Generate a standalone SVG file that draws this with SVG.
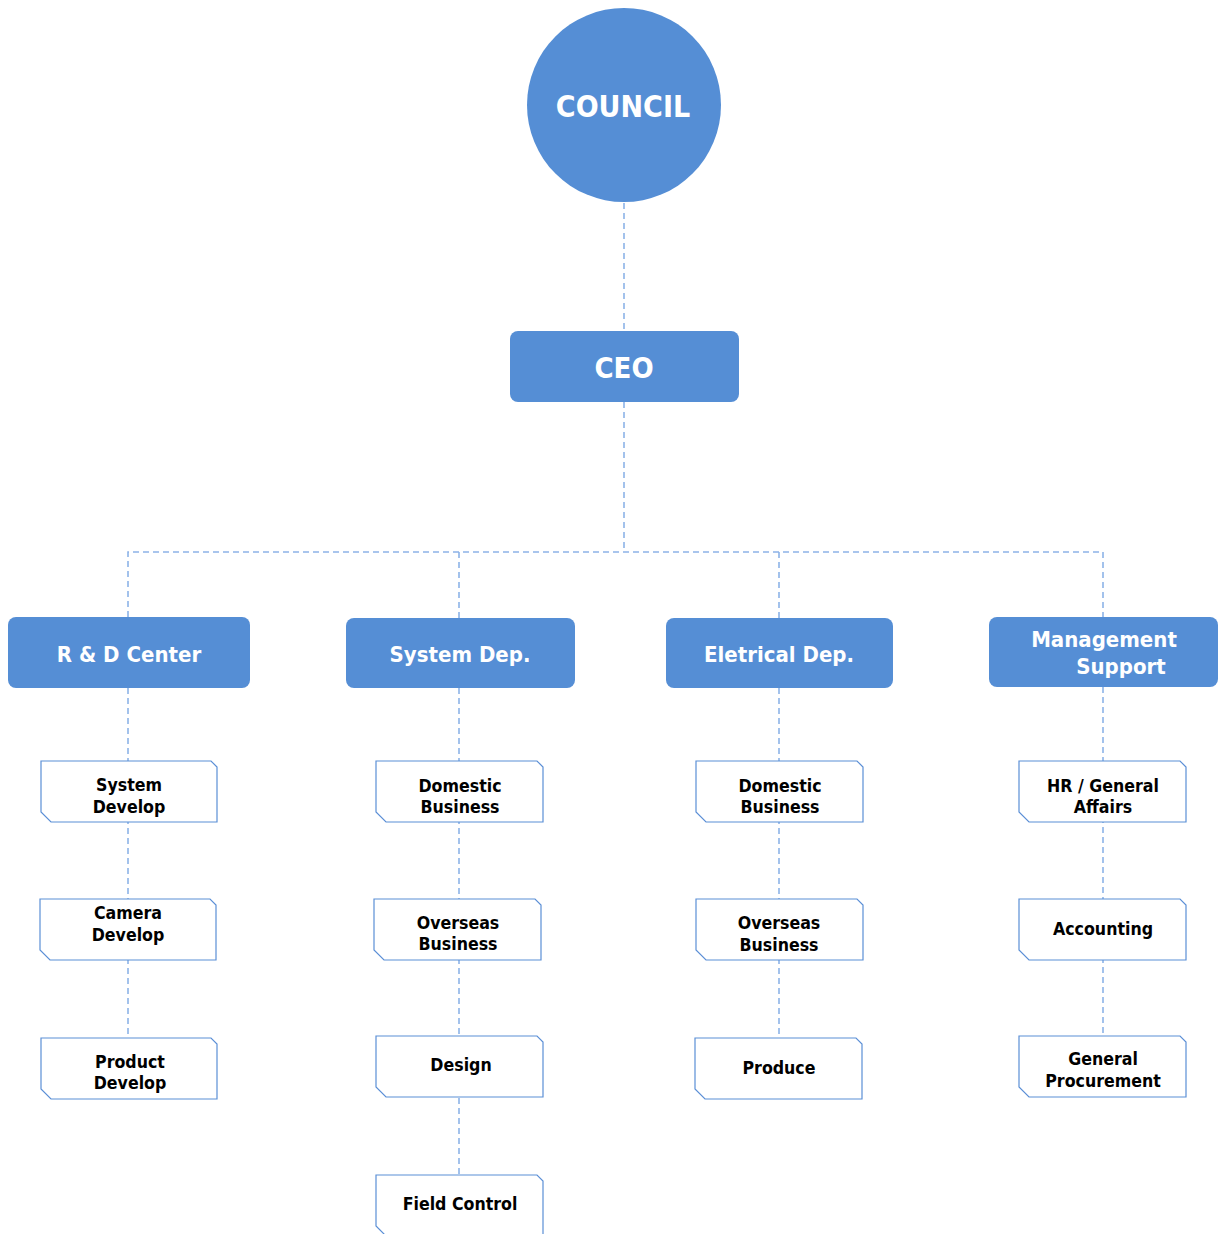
<svg xmlns="http://www.w3.org/2000/svg" width="1222" height="1234" viewBox="0 0 1222 1234">
<style>
.fill{fill:#558ed5}
.wt{fill:#fff;font-family:"DejaVu Sans Condensed","DejaVu Sans",sans-serif;font-weight:bold;text-anchor:middle}
.bt{fill:#000;font-family:"DejaVu Sans Condensed","DejaVu Sans",sans-serif;font-weight:bold;text-anchor:middle;font-size:17.6px}
.box{fill:#fff;stroke:#5b8fd6;stroke-width:1.2}
.dash{fill:none;stroke:#8db3e8;stroke-width:1.6;stroke-dasharray:6 4}
</style>
<defs>
<path id="sb" d="M0,0 H170 L176,6 V61 H10 L0,51 Z"/>
<path id="sb2" d="M0,0 H161 L167,6 V61 H10 L0,51 Z"/>
</defs>
<rect width="1222" height="1234" fill="#fff"/>
<g id="connectors">
<path class="dash" d="M624,203 V331 M624,402 V552 M128,617 V552 H1103 V617 M459,552 V618 M779,552 V618"/>
<path class="dash" d="M128,688 V1038 M459,688 V1175 M779,688 V1038 M1103,687 V1036"/>
</g>
<g id="council"><circle class="fill" cx="624" cy="105" r="97"/><text class="wt" x="623" y="117" font-size="30">COUNCIL</text></g>
<g id="ceo"><rect class="fill" x="510" y="331" width="229" height="71" rx="8"/><text class="wt" x="624" y="378" font-size="29">CEO</text></g>
<g id="rd"><rect class="fill" x="8" y="617" width="242" height="71" rx="8"/><text class="wt" x="129" y="662" font-size="22">R &amp; D Center</text></g>
<g id="sysdep"><rect class="fill" x="346" y="618" width="229" height="70" rx="8"/><text class="wt" x="460" y="662" font-size="22">System Dep.</text></g>
<g id="eldep"><rect class="fill" x="666" y="618" width="227" height="70" rx="8"/><text class="wt" x="779" y="662" font-size="22">Eletrical Dep.</text></g>
<g id="mgmt"><rect class="fill" x="989" y="617" width="229" height="70" rx="8"/><text class="wt" font-size="22"><tspan x="1104" y="647">Management</tspan><tspan x="1121" y="674">Support</tspan></text></g>

<g id="sysdev"><use href="#sb" class="box" x="41" y="761"/><text class="bt"><tspan x="129" y="791">System</tspan><tspan x="129" y="813">Develop</tspan></text></g>
<g id="camdev"><use href="#sb" class="box" x="40" y="899"/><text class="bt"><tspan x="128" y="919">Camera</tspan><tspan x="128" y="941">Develop</tspan></text></g>
<g id="proddev"><use href="#sb" class="box" x="41" y="1038"/><text class="bt"><tspan x="130" y="1068">Product</tspan><tspan x="130" y="1089">Develop</tspan></text></g>

<g id="dom1"><use href="#sb2" class="box" x="376" y="761"/><text class="bt"><tspan x="460" y="792">Domestic</tspan><tspan x="460" y="813">Business</tspan></text></g>
<g id="ovs1"><use href="#sb2" class="box" x="374" y="899"/><text class="bt"><tspan x="458" y="929">Overseas</tspan><tspan x="458" y="950">Business</tspan></text></g>
<g id="design"><use href="#sb2" class="box" x="376" y="1036"/><text class="bt" x="461" y="1071">Design</text></g>
<g id="field"><use href="#sb2" class="box" x="376" y="1175"/><text class="bt" x="460" y="1210">Field Control</text></g>

<g id="dom2"><use href="#sb2" class="box" x="696" y="761"/><text class="bt"><tspan x="780" y="792">Domestic</tspan><tspan x="780" y="813">Business</tspan></text></g>
<g id="ovs2"><use href="#sb2" class="box" x="696" y="899"/><text class="bt"><tspan x="779" y="929">Overseas</tspan><tspan x="779" y="951">Business</tspan></text></g>
<g id="produce"><use href="#sb2" class="box" x="695" y="1038"/><text class="bt" x="779" y="1074">Produce</text></g>

<g id="hr"><use href="#sb2" class="box" x="1019" y="761"/><text class="bt"><tspan x="1103" y="792">HR / General</tspan><tspan x="1103" y="813">Affairs</tspan></text></g>
<g id="acct"><use href="#sb2" class="box" x="1019" y="899"/><text class="bt" x="1103" y="935">Accounting</text></g>
<g id="genproc"><use href="#sb2" class="box" x="1019" y="1036"/><text class="bt"><tspan x="1103" y="1065">General</tspan><tspan x="1103" y="1087">Procurement</tspan></text></g>
</svg>
